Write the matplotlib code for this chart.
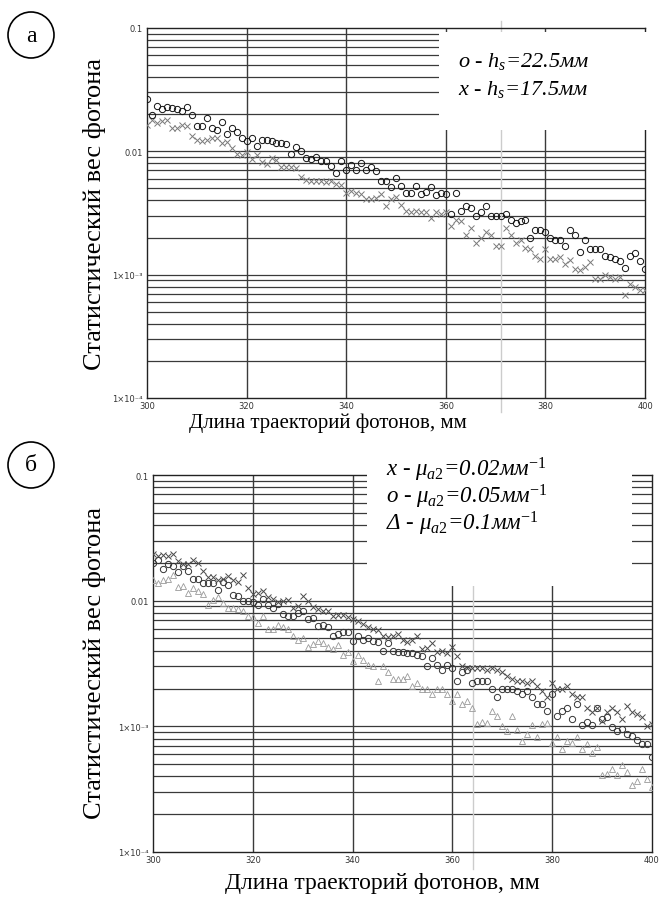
import numpy as np
import matplotlib
matplotlib.use('Agg')
import matplotlib.pyplot as plt
from matplotlib.patches import Rectangle, Ellipse
from matplotlib.ticker import NullLocator

plt.rcParams['mathtext.fontset'] = 'custom'
plt.rcParams['mathtext.rm'] = 'Liberation Serif'
plt.rcParams['mathtext.it'] = 'Liberation Serif:italic'

# photon path length, mm (1 mm step)
lengths = np.arange(300, 401)

# panel a: statistical weight, o - hs=22.5mm, x - hs=17.5mm
o_top = [0.0265, 0.0198, 0.0232, 0.0220, 0.0230, 0.0225, 0.0220, 0.0213, 0.0230, 0.0198,
         0.0159, 0.0159, 0.0187, 0.0156, 0.0149, 0.0172, 0.0137, 0.0155, 0.0144, 0.0128,
         0.0122, 0.0128, 0.0111, 0.0124, 0.0124, 0.0122, 0.0117, 0.0116, 0.0115, 0.0095,
         0.0109, 0.0101, 0.0089, 0.0087, 0.0090, 0.0084, 0.0083, 0.0076, 0.0067, 0.0083,
         0.0070, 0.0078, 0.0070, 0.0081, 0.0071, 0.0074, 0.0069, 0.0058, 0.0057, 0.0051,
         0.0061, 0.0052, 0.0046, 0.0046, 0.0052, 0.0045, 0.0047, 0.0051, 0.0044, 0.0046,
         0.0045, 0.0031, 0.0046, 0.0033, 0.0036, 0.0035, 0.0030, 0.0032, 0.0036, 0.0030,
         0.0030, 0.0030, 0.0031, 0.0028, 0.0026, 0.0027, 0.0028, 0.0020, 0.0023, 0.0023,
         0.0022, 0.0020, 0.0019, 0.0019, 0.0017, 0.0023, 0.0021, 0.00152, 0.0019, 0.0016,
         0.0016, 0.0016, 0.00142, 0.00140, 0.00135, 0.00130, 0.00113, 0.00142, 0.0015, 0.00128,
         0.00112]
x_top = [0.0165, 0.0180, 0.0169, 0.0175, 0.0180, 0.0156, 0.0154, 0.0165, 0.0159, 0.0132,
         0.0124, 0.0122, 0.0124, 0.0128, 0.0128, 0.0116, 0.0118, 0.0107, 0.0095, 0.0094,
         0.0098, 0.0087, 0.0094, 0.0082, 0.0079, 0.0089, 0.0085, 0.0074, 0.0074, 0.0074,
         0.0073, 0.0062, 0.0059, 0.0058, 0.0058, 0.0057, 0.0056, 0.0058, 0.0054, 0.0053,
         0.0046, 0.0048, 0.0046, 0.0045, 0.0041, 0.0041, 0.0042, 0.0045, 0.0036, 0.0041,
         0.0043, 0.0037, 0.0033, 0.0032, 0.0033, 0.0032, 0.0032, 0.0029, 0.0032, 0.0031,
         0.0032, 0.0025, 0.0028, 0.0027, 0.0021, 0.0024, 0.0018, 0.0020, 0.0022, 0.0021,
         0.0017, 0.0017, 0.0024, 0.0021, 0.0018, 0.0019, 0.00163, 0.0016, 0.00141, 0.00133,
         0.0016, 0.00133, 0.00135, 0.00138, 0.00122, 0.00132, 0.00112, 0.00110, 0.00115, 0.00126,
         0.00093, 0.00092, 0.00099, 0.00095, 0.00093, 0.00095, 0.00068, 0.00084, 0.00079, 0.00075,
         0.00075]

# panel b: x - mu=0.02, o - mu=0.05, triangle - mu=0.1 (1/mm)
x_bot = [0.0234, 0.0227, 0.0231, 0.0228, 0.0234, 0.0205, 0.0196, 0.0196, 0.0212, 0.0199,
         0.0173, 0.0153, 0.0153, 0.0145, 0.0149, 0.0158, 0.0145, 0.0141, 0.0160, 0.0125,
         0.0113, 0.0115, 0.0119, 0.0106, 0.0104, 0.0097, 0.0100, 0.0101, 0.0087, 0.0091,
         0.0108, 0.0100, 0.0089, 0.0086, 0.0082, 0.0083, 0.0076, 0.0077, 0.0077, 0.0074,
         0.0071, 0.0069, 0.0065, 0.0062, 0.0059, 0.0058, 0.0052, 0.0051, 0.0052, 0.0054,
         0.0049, 0.0047, 0.0049, 0.0052, 0.0041, 0.0042, 0.0046, 0.0039, 0.0040, 0.0038,
         0.0043, 0.0036, 0.0030, 0.0029, 0.0029, 0.0029, 0.0029, 0.0028, 0.0029, 0.0028,
         0.0027, 0.0025, 0.0024, 0.0023, 0.0023, 0.0022, 0.0023, 0.0021, 0.0019, 0.0017,
         0.0022, 0.0020, 0.0020, 0.0021, 0.0018, 0.0017, 0.0017, 0.0014, 0.0013, 0.0014,
         0.00110, 0.0013, 0.0014, 0.00130, 0.00115, 0.00145, 0.0013, 0.00125, 0.00118, 0.00101,
         0.00105]
o_bot = [0.0199, 0.0212, 0.0178, 0.0196, 0.0190, 0.0169, 0.0190, 0.0173, 0.0150, 0.0150,
         0.0138, 0.0138, 0.0138, 0.0122, 0.0142, 0.0133, 0.0111, 0.0108, 0.0100, 0.0100,
         0.0098, 0.0093, 0.0103, 0.0093, 0.0087, 0.0094, 0.0078, 0.0076, 0.0076, 0.0080,
         0.0083, 0.0072, 0.0073, 0.0063, 0.0064, 0.0062, 0.0052, 0.0054, 0.0056, 0.0056,
         0.0048, 0.0052, 0.0049, 0.0050, 0.0048, 0.0047, 0.0040, 0.0046, 0.0040, 0.0039,
         0.0039, 0.0038, 0.0038, 0.0037, 0.0036, 0.0030, 0.0035, 0.0031, 0.0028, 0.0031,
         0.0029, 0.0023, 0.0027, 0.0028, 0.0022, 0.0023, 0.0023, 0.0023, 0.0020, 0.0017,
         0.0020, 0.0020, 0.0020, 0.0019, 0.0018, 0.0019, 0.0017, 0.0015, 0.0015, 0.00133,
         0.0018, 0.0012, 0.00133, 0.0014, 0.00115, 0.0015, 0.00102, 0.00108, 0.00102, 0.0014,
         0.00115, 0.00118, 0.00098, 0.00092, 0.00095, 0.00087, 0.00084, 0.00078, 0.00072, 0.00072,
         0.00057]
t_bot = [0.0147, 0.0138, 0.0147, 0.0149, 0.0160, 0.0128, 0.0130, 0.0116, 0.0125, 0.0119,
         0.0113, 0.0093, 0.0102, 0.0106, 0.0096, 0.0087, 0.0087, 0.0086, 0.0083, 0.0075,
         0.0074, 0.0067, 0.0075, 0.0060, 0.0060, 0.0064, 0.0062, 0.0059, 0.0052, 0.0049,
         0.0050, 0.0043, 0.0045, 0.0048, 0.0046, 0.0043, 0.0041, 0.0044, 0.0037, 0.0039,
         0.0033, 0.0037, 0.0034, 0.0031, 0.0030, 0.0023, 0.0030, 0.0027, 0.0024, 0.0024,
         0.0024, 0.0025, 0.0021, 0.0022, 0.0020, 0.0020, 0.0018, 0.0020, 0.0020, 0.0018,
         0.0016, 0.0018, 0.0015, 0.0016, 0.0014, 0.00104, 0.00108, 0.00106, 0.00133, 0.0012,
         0.00101, 0.00092, 0.0012, 0.00094, 0.00077, 0.00087, 0.00102, 0.00082, 0.00104, 0.00106,
         0.00074, 0.00082, 0.00066, 0.00077, 0.00074, 0.00082, 0.00066, 0.00072, 0.00061, 0.00068,
         0.00041, 0.00042, 0.00046, 0.00041, 0.00049, 0.00043, 0.00034, 0.00037, 0.00046, 0.00038,
         0.00033]

x_ticks = [300, 320, 340, 360, 380, 400]
y_ticks = [1e-4, 1e-3, 1e-2, 1e-1]
y_tick_labels = ['1×10⁻⁴', '1×10⁻³', '0.01', '0.1']

SERIF = 'Liberation Serif'
W, H = 661, 903


def setup_axes(ax):
    ax.set_yscale('log')
    ax.set_xlim(300, 400)
    ax.set_ylim(1e-4, 0.1)
    for k in (-4, -3, -2):
        for m in range(1, 10):
            if m == 1 and k == -4:
                continue
            ax.axhline(m * 10.0 ** k, color='#3a3a3a', lw=0.9, zorder=1)
    for xv in x_ticks[1:-1]:
        ax.axvline(xv, color='#3a3a3a', lw=1.0, zorder=1)
    ax.set_xticks(x_ticks)
    ax.set_yticks(y_ticks)
    ax.set_yticklabels(y_tick_labels)
    ax.yaxis.set_minor_locator(NullLocator())
    ax.tick_params(length=0, labelsize=6, colors='#333333', pad=3)
    ax.tick_params(axis='x', pad=2)
    for s in ax.spines.values():
        s.set_color('#222222')
        s.set_linewidth(1.0)


fig = plt.figure(figsize=(W / 100, H / 100), dpi=100)

# ---- panel a
ax1 = fig.add_axes([147 / W, 1 - 399 / H, 498 / W, 370 / H])
setup_axes(ax1)
ax1.axvline(371, ymin=-0.038, ymax=1.019, color='#cccccc', lw=1.0, zorder=1, clip_on=False)
ax1.plot(lengths, x_top, 'x', color='#7a7a7a', ms=5, mew=0.7, zorder=5)
ax1.plot(lengths, o_top, 'o', mfc='none', mec='#111111', ms=4.5, mew=0.7, zorder=5)
ax1.add_patch(Rectangle((0.586, 0.724), 0.44, 0.265, transform=ax1.transAxes,
                        facecolor='white', edgecolor='none', zorder=3, clip_on=False))
ax1.text(458 / W, 1 - 62 / H, 'o - $h_s$=22.5мм', transform=fig.transFigure,
         family=SERIF, style='italic', fontsize=16, va='center', ha='left', zorder=6)
ax1.text(458 / W, 1 - 90 / H, 'x - $h_s$=17.5мм', transform=fig.transFigure,
         family=SERIF, style='italic', fontsize=16, va='center', ha='left', zorder=6)

fig.text(95 / W, 1 - 214 / H, 'Статистический вес фотона', rotation=90,
         family=SERIF, fontsize=19, ha='center', va='center')
fig.text(328 / W, 1 - 423 / H, 'Длина траекторий фотонов, мм',
         family=SERIF, fontsize=15, ha='center', va='center')

# ---- panel b
ax2 = fig.add_axes([153 / W, 1 - 853 / H, 499 / W, 377 / H])
setup_axes(ax2)
ax2.axvline(364.2, ymin=-0.045, ymax=1.0, color='#cccccc', lw=1.0, zorder=1, clip_on=False)
ax2.plot(lengths, t_bot, '^', mfc='none', mec='#9a9a9a', ms=4.5, mew=0.6, zorder=5)
ax2.plot(lengths, o_bot, 'o', mfc='none', mec='#333333', ms=4.5, mew=0.7, zorder=5)
ax2.plot(lengths, x_bot, 'x', color='#4a4a4a', ms=5, mew=0.7, zorder=5)
ax2.add_patch(Rectangle((0.429, 0.706), 0.531, 0.33, transform=ax2.transAxes,
                        facecolor='white', edgecolor='none', zorder=3, clip_on=False))
leg_b = ['x - $\\mu_{a2}$=0.02мм$^{-1}$',
         'o - $\\mu_{a2}$=0.05мм$^{-1}$',
         'Δ - $\\mu_{a2}$=0.1мм$^{-1}$']
for i, s in enumerate(leg_b):
    ax2.text(386 / W, 1 - (470 + 27 * i) / H, s, transform=fig.transFigure,
             family=SERIF, style='italic', fontsize=16.5, va='center', ha='left', zorder=6)

fig.text(95 / W, 1 - 663 / H, 'Статистический вес фотона', rotation=90,
         family=SERIF, fontsize=19, ha='center', va='center')
fig.text(382 / W, 1 - 884 / H, 'Длина траекторий фотонов, мм',
         family=SERIF, fontsize=17, ha='center', va='center')

# ---- circled panel letters
for cy, letter in ((36, 'а'), (466, 'б')):
    fig.add_artist(Ellipse((31 / W, 1 - cy / H), 46 / W, 46 / H, transform=fig.transFigure,
                           facecolor='none', edgecolor='black', lw=1.2))
    fig.text(31 / W, 1 - cy / H, letter, family=SERIF, fontsize=17,
             ha='center', va='center')

fig.savefig('out.png', dpi=100)
